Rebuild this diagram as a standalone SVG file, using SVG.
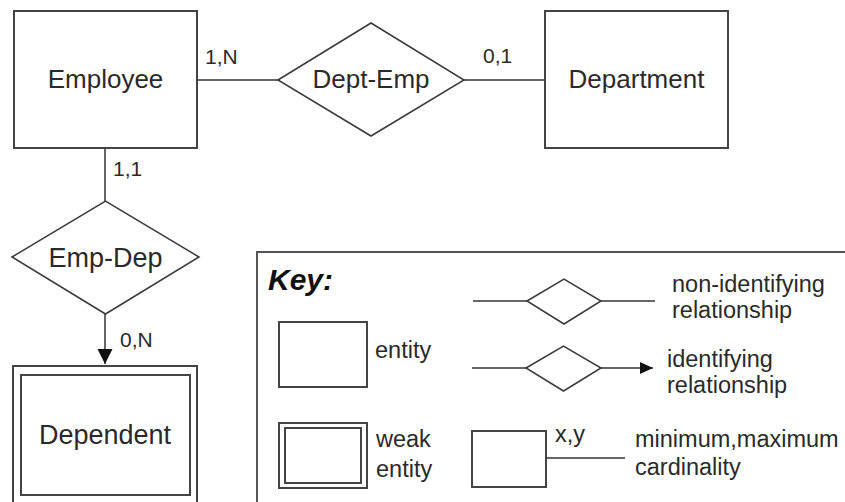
<svg xmlns="http://www.w3.org/2000/svg" width="845" height="502" viewBox="0 0 845 502">
<defs>
<style>
.box{fill:#fff;stroke:#444;stroke-width:2}
.dia{fill:#fff;stroke:#3a3a3a;stroke-width:1.5}
.ln{fill:none;stroke:#333;stroke-width:1.5}
.t{font-family:"Liberation Sans",Arial,sans-serif;fill:#2a2a2a}
.big{font-size:26px;text-anchor:middle}
.card{font-size:21px}
.k{font-size:23.5px}
</style>
<marker id="arr" markerWidth="14" markerHeight="14" refX="13" refY="6" orient="auto" markerUnits="userSpaceOnUse">
<path d="M0,0 L13,6 L0,12 Z" fill="#111"/>
</marker>
<marker id="arrB" markerWidth="16" markerHeight="16" refX="15" refY="7.5" orient="auto" markerUnits="userSpaceOnUse">
<path d="M0,0 L15,7.5 L0,15 Z" fill="#111"/>
</marker>
</defs>
<rect width="845" height="502" fill="#fff"/>
<g id="connectors">
<line class="ln" x1="197" y1="80" x2="278" y2="80"/>
<line class="ln" x1="464" y1="80" x2="545" y2="80"/>
<line class="ln" x1="105" y1="148" x2="105" y2="201"/>
<line class="ln" x1="105" y1="314" x2="105" y2="364" marker-end="url(#arrB)"/>
<text class="t card" x="205" y="64">1,N</text>
<text class="t card" x="483" y="63">0,1</text>
<text class="t card" x="113" y="176">1,1</text>
<text class="t card" x="120" y="347">0,N</text>
</g>
<g id="employee">
<rect class="box" x="14" y="11" width="183" height="137"/>
<text class="t big" x="105.5" y="88">Employee</text>
</g>
<g id="dept-emp">
<polygon class="dia" points="278,80 371,23 464,80 371,136"/>
<text class="t big" x="371" y="88">Dept-Emp</text>
</g>
<g id="department">
<rect class="box" x="545" y="11" width="183" height="137"/>
<text class="t big" x="636.5" y="88">Department</text>
</g>
<g id="emp-dep">
<polygon class="dia" points="12,257 105.5,201 199,257 105.5,314"/>
<text class="t big" x="105.5" y="267" style="font-size:27px">Emp-Dep</text>
</g>
<g id="dependent">
<rect class="box" x="13" y="366" width="184" height="140"/>
<rect class="box" x="21" y="375" width="169" height="120"/>
<text class="t big" x="105" y="444" style="font-size:27px">Dependent</text>
</g>
<g id="key">
<path d="M257,506 V252 H848" fill="none" stroke="#555" stroke-width="2"/>
<text class="t" x="268" y="290" style="font-size:30px;font-weight:bold;font-style:italic;fill:#111">Key:</text>
<rect class="box" x="279" y="322" width="88" height="65"/>
<text class="t k" x="375" y="358">entity</text>
<rect class="box" x="279" y="423" width="88" height="65"/>
<rect class="box" x="285" y="428" width="76" height="55"/>
<text class="t k" x="376" y="447">weak</text>
<text class="t k" x="376" y="477">entity</text>
<line class="ln" x1="473" y1="301" x2="527" y2="301"/>
<polygon class="dia" points="527,301 564,279 601,301 564,324"/>
<line class="ln" x1="601" y1="301" x2="655" y2="301"/>
<text class="t k" x="672" y="292">non-identifying</text>
<text class="t k" x="672" y="318">relationship</text>
<line class="ln" x1="472" y1="368" x2="526" y2="368"/>
<polygon class="dia" points="526,368 563.5,346 601,368 563.5,391"/>
<line class="ln" x1="601" y1="368" x2="653" y2="368" marker-end="url(#arr)"/>
<text class="t k" x="667" y="367">identifying</text>
<text class="t k" x="667" y="393">relationship</text>
<rect class="box" x="472" y="431" width="74" height="56"/>
<line class="ln" x1="546" y1="458" x2="625" y2="458"/>
<text class="t k" x="555" y="442">x,y</text>
<text class="t k" x="635" y="447">minimum,maximum</text>
<text class="t k" x="635" y="475">cardinality</text>
</g>
</svg>
